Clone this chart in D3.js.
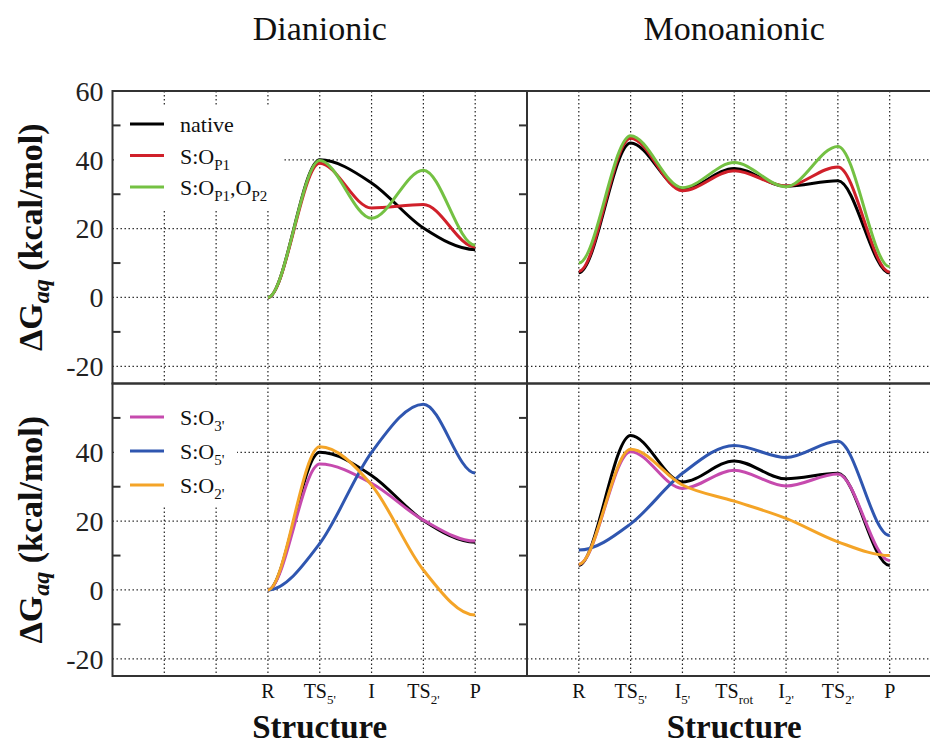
<!DOCTYPE html>
<html>
<head>
<meta charset="utf-8">
<script src="https://cdn.jsdelivr.net/npm/d3@7"></script>
<style>
  body { margin: 0; background: #fff; }
  svg { display: block; font-family: "Liberation Serif", "Times New Roman", serif; }
</style>
</head>
<body>
<div id="chart"></div>
<script>
// slots on the x axis (0..8), categories sit on whole slots
var diX = [3, 4, 5, 6, 7];
var monoX = [1, 2, 3, 4, 5, 6, 7];
var diLabels = [["R", ""], ["TS", "5'"], ["I", ""], ["TS", "2'"], ["P", ""]];
var monoLabels = [["R", ""], ["TS", "5'"], ["I", "5'"], ["TS", "rot"], ["I", "2'"], ["TS", "2'"], ["P", ""]];

// dianionic, kcal/mol
var diNative = [0, 40, 33.3, 20.2, 13.9];
var diOP1 = [0, 39, 26, 27, 14.7];
var diOP1OP2 = [0, 39.8, 23, 37, 15.2];
var diO3 = [0, 36.6, 31, 20.3, 14.2];
var diO5 = [0, 13.5, 40, 54, 34];
var diO2 = [0, 41.6, 30.5, 5.8, -7.3];

// monoanionic, kcal/mol
var monoNative = [7.2, 44.9, 31.4, 37.5, 32.3, 33.9, 7.1];
var monoOP1 = [7.6, 46.3, 31, 36.8, 32.4, 37.9, 7.4];
var monoOP1OP2 = [10, 47, 31.9, 39.2, 32.2, 43.9, 8.9];
var monoO3 = [7.5, 40.2, 29.5, 34.8, 30.2, 33.7, 8.5];
var monoO5 = [11.6, 19.2, 33.9, 42, 38.5, 43.2, 15.8];
var monoO2 = [7.5, 40.9, 30.5, 25.8, 20.8, 14, 10];

var yTicksTop = [60, 40, 20, 0, -20];
var yTicksBottom = [40, 20, 0, -20];
var yMinor = [50, 30, 10, -10];

var colors = {
    native: '#000000',
    op1: '#d0202a',
    op1op2: '#74c143',
    o3: '#c64aae',
    o5: '#2f56b0',
    o2: '#f4a427'
};

var width = 930, height = 745;

var svg = d3.select('#chart').append('svg')
    .attr('width', width)
    .attr('height', height);

var xLeft = d3.scaleLinear().domain([0, 8]).range([112.5, 527]),
    xRight = d3.scaleLinear().domain([0, 8]).range([527, 941.5]),
    yTop = d3.scaleLinear().domain([-25, 60]).range([383.5, 91]),
    yBottom = d3.scaleLinear().domain([-25, 60]).range([676, 383.5]);

// monotone cubic with flat ends
function FlatMonotone(context) { this._context = context; }
FlatMonotone.prototype = {
    areaStart: function() {},
    areaEnd: function() {},
    lineStart: function() { this._xs = []; this._ys = []; },
    point: function(x, y) { this._xs.push(+x); this._ys.push(+y); },
    lineEnd: function() {
        var xs = this._xs, ys = this._ys, n = xs.length, c = this._context;
        if (!n) return;
        c.moveTo(xs[0], ys[0]);
        if (n === 2) { c.lineTo(xs[1], ys[1]); return; }
        var t = xs.map(function() { return 0; });
        for (var i = 1; i < n - 1; i++) {
            var h0 = xs[i] - xs[i - 1], h1 = xs[i + 1] - xs[i],
                s0 = (ys[i] - ys[i - 1]) / h0, s1 = (ys[i + 1] - ys[i]) / h1,
                p = (s0 * h1 + s1 * h0) / (h0 + h1);
            t[i] = (Math.sign(s0) + Math.sign(s1)) * Math.min(Math.abs(s0), Math.abs(s1), 0.5 * Math.abs(p));
        }
        for (var j = 0; j < n - 1; j++) {
            var dx = (xs[j + 1] - xs[j]) / 3;
            c.bezierCurveTo(xs[j] + dx, ys[j] + dx * t[j], xs[j + 1] - dx, ys[j + 1] - dx * t[j + 1], xs[j + 1], ys[j + 1]);
        }
    }
};
function curveFlatMonotone(context) { return new FlatMonotone(context); }

// text with subscripts: parts = [[text, isSub, style], ...]
function richText(sel, parts, subSize, subDy) {
    var down = false;
    parts.forEach(function(p) {
        if (!p[0]) return;
        var ts = sel.append('tspan').text(p[0]);
        if (p[1]) {
            ts.attr('font-size', subSize);
            if (!down) { ts.attr('dy', subDy); down = true; }
        } else if (down) {
            ts.attr('dy', -subDy); down = false;
        }
        if (p[2]) ts.attr('font-style', p[2]);
    });
}

function drawPanel(x, y, xs, series, yTicks, opts) {
    var g = svg.append('g');
    var x0 = x.range()[0], x1 = x.range()[1],
        y0 = y.range()[1], y1 = y.range()[0];

    // grid
    g.selectAll('.vgrid').data(d3.range(1, 8)).enter().append('line')
        .attr('x1', function(d) { return x(d); })
        .attr('x2', function(d) { return x(d); })
        .attr('y1', y0).attr('y2', y1)
        .attr('stroke', '#222').attr('stroke-width', 1.2)
        .attr('stroke-dasharray', '1.4,2.6');
    g.selectAll('.hgrid').data([40, 20, 0, -20]).enter().append('line')
        .attr('x1', x0).attr('x2', x1)
        .attr('y1', function(d) { return y(d); })
        .attr('y2', function(d) { return y(d); })
        .attr('stroke', '#222').attr('stroke-width', 1.2)
        .attr('stroke-dasharray', '1.4,2.6');

    if (opts.legendBox) {
        g.append('rect')
            .attr('x', opts.legendBox[0]).attr('y', opts.legendBox[1])
            .attr('width', opts.legendBox[2]).attr('height', opts.legendBox[3])
            .attr('fill', '#fff');
    }

    var line = d3.line()
        .x(function(d, i) { return x(xs[i]); })
        .y(function(d) { return y(d); })
        .curve(curveFlatMonotone);

    series.forEach(function(s) {
        g.append('path')
            .attr('d', line(s.values))
            .attr('fill', 'none')
            .attr('stroke', s.color)
            .attr('stroke-width', 3);
    });

    // frame
    g.append('rect')
        .attr('x', x0).attr('y', y0)
        .attr('width', x1 - x0).attr('height', y1 - y0)
        .attr('fill', 'none').attr('stroke', '#333').attr('stroke-width', 2);

    if (opts.ticks) {
        g.selectAll('.tickL').data(yMinor).enter().append('line')
            .attr('x1', x0).attr('x2', x0 + 8)
            .attr('y1', function(d) { return y(d); })
            .attr('y2', function(d) { return y(d); })
            .attr('stroke', '#333').attr('stroke-width', 2);
        g.selectAll('.tickR').data(yMinor).enter().append('line')
            .attr('x1', x1 - 8).attr('x2', x1)
            .attr('y1', function(d) { return y(d); })
            .attr('y2', function(d) { return y(d); })
            .attr('stroke', '#333').attr('stroke-width', 2);

        g.selectAll('.ylab').data(yTicks).enter().append('text')
            .attr('x', x0 - 9)
            .attr('y', function(d) { return y(d); })
            .attr('dy', '0.35em')
            .attr('text-anchor', 'end')
            .attr('font-size', 28)
            .attr('fill', '#222')
            .text(function(d) { return d; });
    }

    if (opts.legend) {
        opts.legend.forEach(function(item, i) {
            var ly = opts.legendY[i];
            g.append('line')
                .attr('x1', 130).attr('x2', 164)
                .attr('y1', ly).attr('y2', ly)
                .attr('stroke', item.color).attr('stroke-width', 3);
            var t = g.append('text')
                .attr('x', 180).attr('y', ly + 8)
                .attr('font-size', 22)
                .attr('fill', '#111');
            richText(t, item.label, 15, 6);
        });
    }
    return g;
}

drawPanel(xLeft, yTop, diX, [
    { values: diNative, color: colors.native },
    { values: diOP1, color: colors.op1 },
    { values: diOP1OP2, color: colors.op1op2 }
], yTicksTop, {
    ticks: true,
    legendBox: [114, 107, 168, 103],
    legend: [
        { color: colors.native, label: [['native']] },
        { color: colors.op1, label: [['S:O'], ['P1', true]] },
        { color: colors.op1op2, label: [['S:O'], ['P1', true], [',O'], ['P2', true]] }
    ],
    legendY: [124, 155.5, 187]
});

drawPanel(xRight, yTop, monoX, [
    { values: monoNative, color: colors.native },
    { values: monoOP1, color: colors.op1 },
    { values: monoOP1OP2, color: colors.op1op2 }
], yTicksTop, {});

drawPanel(xLeft, yBottom, diX, [
    { values: diNative, color: colors.native },
    { values: diO3, color: colors.o3 },
    { values: diO5, color: colors.o5 },
    { values: diO2, color: colors.o2 }
], yTicksBottom, {
    ticks: true,
    legendBox: [114, 385, 123, 122],
    legend: [
        { color: colors.o3, label: [['S:O'], ["3'", true]] },
        { color: colors.o5, label: [['S:O'], ["5'", true]] },
        { color: colors.o2, label: [['S:O'], ["2'", true]] }
    ],
    legendY: [417, 451, 485]
});

drawPanel(xRight, yBottom, monoX, [
    { values: monoNative, color: colors.native },
    { values: monoO3, color: colors.o3 },
    { values: monoO5, color: colors.o5 },
    { values: monoO2, color: colors.o2 }
], yTicksBottom, {});

// x tick labels
function xLabels(x, xs, labels) {
    labels.forEach(function(l, i) {
        var t = svg.append('text')
            .attr('x', x(xs[i]))
            .attr('y', 698)
            .attr('text-anchor', 'middle')
            .attr('font-size', 20)
            .attr('fill', '#111');
        richText(t, [[l[0]], [l[1], true]], 13, 6);
    });
}
xLabels(xLeft, diX, diLabels);
xLabels(xRight, monoX, monoLabels);

// axis titles
[[xLeft, 'Dianionic'], [xRight, 'Monoanionic']].forEach(function(p) {
    var cx = (p[0].range()[0] + p[0].range()[1]) / 2;
    svg.append('text')
        .attr('x', cx).attr('y', 40)
        .attr('text-anchor', 'middle')
        .attr('font-size', 34)
        .attr('fill', '#111')
        .text(p[1]);
    svg.append('text')
        .attr('x', cx).attr('y', 738)
        .attr('text-anchor', 'middle')
        .attr('font-size', 33)
        .attr('font-weight', 'bold')
        .attr('fill', '#111')
        .text('Structure');
});

[yTop, yBottom].forEach(function(y) {
    var cy = (y.range()[0] + y.range()[1]) / 2;
    var t = svg.append('text')
        .attr('transform', 'translate(42,' + cy + ') rotate(-90)')
        .attr('text-anchor', 'middle')
        .attr('font-size', 34)
        .attr('font-weight', 'bold')
        .attr('fill', '#111');
    richText(t, [['\u0394G'], ['aq', true, 'italic'], [' (kcal/mol)']], 24, 7);
});
</script>
</body>
</html>
